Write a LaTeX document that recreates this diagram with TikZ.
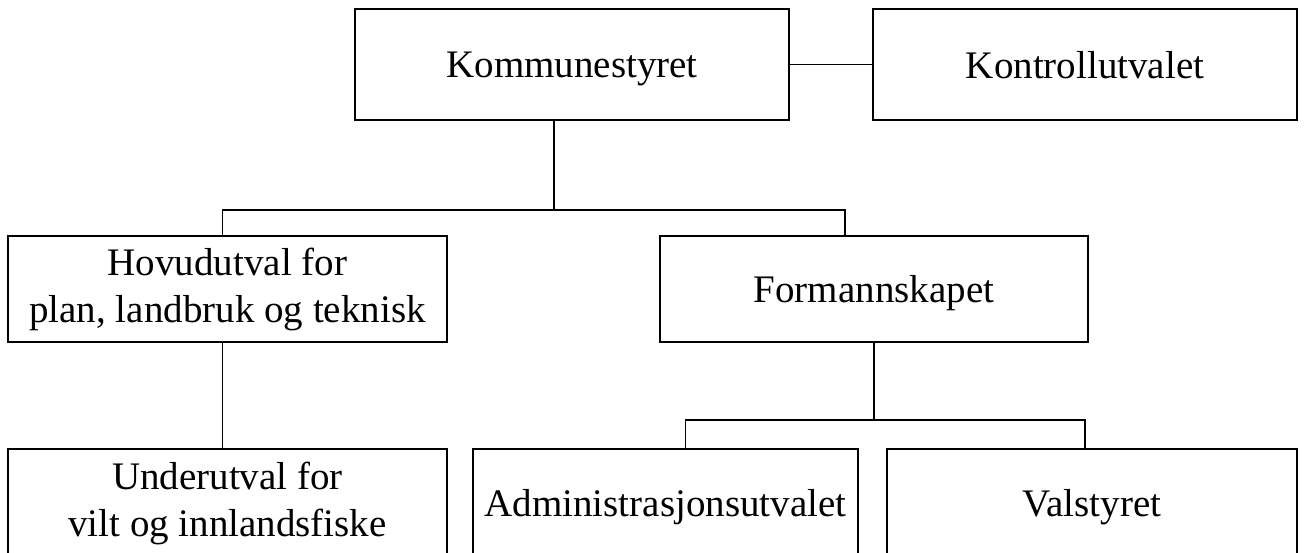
\documentclass[tikz,border=0pt]{standalone}
\usepackage{fontspec}
\setmainfont{Liberation Serif}
\usetikzlibrary{positioning}

\begin{document}
\begin{tikzpicture}[x=1pt, y=1pt,
    orgbox/.style={draw, line width=1.3pt, inner sep=0pt, align=center,
                   font=\fontsize{39}{47}\selectfont},
    oneline/.style={text depth=0pt},
    link/.style={line width=1.3pt}]
\useasboundingbox (0,0) rectangle (1313,-552);

\begin{scope}
  \node[orgbox, oneline, minimum width=434, minimum height=111] (kommune) at (572, -64.5) {Kommunestyret};
  \node[orgbox, oneline, minimum width=424, minimum height=111] (kontroll) at (1085, -64.5) {Kontrollutvalet};
  \node[orgbox, minimum width=439, minimum height=106] (hovud) at (227.5, -289) {Hovudutval for\\plan, landbruk og teknisk};
  \node[orgbox, oneline, minimum width=428, minimum height=106] (forman) at (874, -289) {Formannskapet};
  \node[orgbox, minimum width=439, minimum height=108] (under) at (227.5, -503) {Underutval for\\vilt og innlandsfiske};
  \node[orgbox, oneline, minimum width=385, minimum height=108] (admin) at (665.5, -503) {Administrasjonsutvalet};
  \node[orgbox, oneline, minimum width=410, minimum height=108] (val) at (1092, -503) {Valstyret};
\end{scope}

\begin{scope}
  \coordinate (bus1) at (554, -210);
  \coordinate (bus2) at (874, -420);
\end{scope}

\begin{scope}[every path/.style={link}]
  \draw (kommune) -- (kontroll);
  \draw (bus1 |- kommune.south) -- (bus1);
  \draw ([xshift=-5pt]hovud.north) |- (bus1) -| ([xshift=-29pt]forman.north);
  \draw ([xshift=-5pt]hovud.south) -- ([xshift=-5pt]under.north);
  \draw (forman.south) -- (bus2);
  \draw ([xshift=20pt]admin.north) |- (bus2) -| ([xshift=-7pt]val.north);
\end{scope}
\end{tikzpicture}
\end{document}
